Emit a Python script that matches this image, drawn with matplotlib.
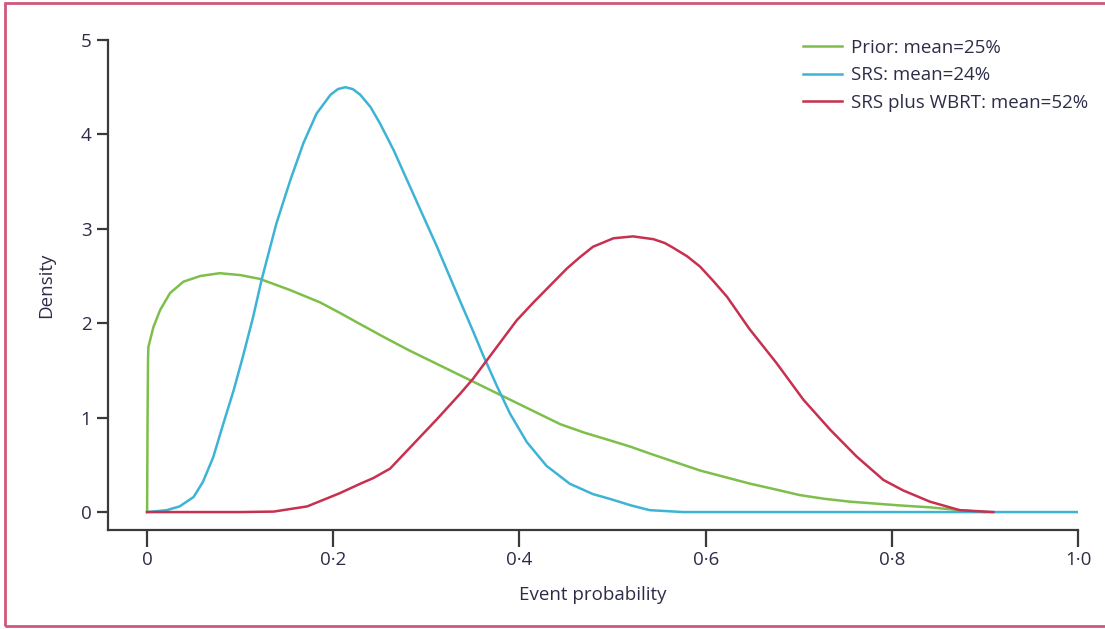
import matplotlib
matplotlib.use("Agg")
import matplotlib.pyplot as plt
from matplotlib.patches import Rectangle

# values
prior_x = [0, 0.0005, 0.001, 0.0014, 0.0068, 0.014, 0.0247, 0.039, 0.057, 0.078, 0.10, 0.121,
           0.154, 0.186, 0.207, 0.229, 0.255, 0.282, 0.309, 0.336, 0.363, 0.39, 0.417, 0.444,
           0.47, 0.497, 0.52, 0.540, 0.567, 0.594, 0.621, 0.648, 0.675, 0.701, 0.728, 0.755,
           0.782, 0.809, 0.841, 0.873, 0.9]
prior_y = [0, 1.0, 1.61, 1.75, 1.96, 2.14, 2.32, 2.44, 2.50, 2.53, 2.51, 2.47,
           2.35, 2.22, 2.11, 1.99, 1.85, 1.71, 1.58, 1.45, 1.32, 1.19, 1.06, 0.93,
           0.84, 0.76, 0.69, 0.62, 0.53, 0.44, 0.37, 0.30, 0.24, 0.18, 0.14, 0.11,
           0.09, 0.07, 0.05, 0.02, 0.0]

srs_x = [0, 0.021, 0.035, 0.050, 0.060, 0.071, 0.082, 0.093, 0.103, 0.114, 0.123, 0.139,
         0.154, 0.168, 0.182, 0.197, 0.205, 0.213, 0.221, 0.229, 0.24, 0.250, 0.265, 0.28,
         0.295, 0.311, 0.336, 0.35, 0.361, 0.376, 0.39, 0.408, 0.429, 0.454, 0.479, 0.497,
         0.52, 0.54, 0.576, 1.0]
srs_y = [0, 0.02, 0.06, 0.16, 0.32, 0.58, 0.94, 1.29, 1.65, 2.07, 2.46, 3.06,
         3.52, 3.91, 4.22, 4.42, 4.48, 4.50, 4.48, 4.42, 4.29, 4.12, 3.83, 3.50,
         3.17, 2.82, 2.24, 1.92, 1.66, 1.33, 1.04, 0.74, 0.49, 0.30, 0.19, 0.14,
         0.07, 0.02, 0.0, 0.0]

wbrt_x = [0, 0.10, 0.136, 0.172, 0.207, 0.229, 0.243, 0.261, 0.286, 0.311, 0.336, 0.350,
          0.372, 0.397, 0.415, 0.433, 0.451, 0.465, 0.479, 0.501, 0.522, 0.544, 0.556, 0.565,
          0.58, 0.594, 0.608, 0.623, 0.647, 0.676, 0.705, 0.734, 0.762, 0.791, 0.812, 0.841,
          0.873, 0.909]
wbrt_y = [0, 0.0, 0.005, 0.06, 0.20, 0.30, 0.36, 0.46, 0.72, 0.98, 1.25, 1.41,
          1.70, 2.03, 2.22, 2.40, 2.58, 2.70, 2.81, 2.90, 2.92, 2.89, 2.85, 2.80,
          2.71, 2.60, 2.45, 2.28, 1.94, 1.58, 1.19, 0.87, 0.59, 0.34, 0.23, 0.11,
          0.02, 0.0]

labels = ["Prior: mean=25%", "SRS: mean=24%", "SRS plus WBRT: mean=52%"]
colors = ["#7dbf4a", "#3db3d5", "#c7304f"]

x_ticks = [0, 0.2, 0.4, 0.6, 0.8, 1.0]
x_tick_labels = ["0", "0·2", "0·4", "0·6", "0·8", "1·0"]
y_ticks = [0, 1, 2, 3, 4, 5]

plt.rcParams['font.family'] = ['Open Sans', 'DejaVu Sans']
txt = "#2d2d48"
axc = "#3a3a3a"
fs = 13.5

fig = plt.figure(figsize=(11.05, 6.29), dpi=100)
ax = fig.add_axes([108/1105, 1 - 530/629, 970/1105, 490/629])

ax.plot(prior_x, prior_y, color=colors[0], lw=1.8, label=labels[0])
ax.plot(srs_x, srs_y, color=colors[1], lw=1.8, label=labels[1])
ax.plot(wbrt_x, wbrt_y, color=colors[2], lw=1.8, label=labels[2])

ax.set_xlim(-0.042, 1.0)
ax.set_ylim(-0.19, 5.0)
ax.set_xticks(x_ticks)
ax.set_xticklabels(x_tick_labels)
ax.set_yticks(y_ticks)

for s in ["top", "right"]:
    ax.spines[s].set_visible(False)
for s in ["left", "bottom"]:
    ax.spines[s].set_color(axc)
    ax.spines[s].set_linewidth(1.6)
ax.tick_params(axis="x", direction="out", length=12, width=1.6, color=axc,
               labelsize=fs, labelcolor=txt, pad=3)
ax.tick_params(axis="y", direction="out", length=8, width=1.6, color=axc,
               labelsize=fs, labelcolor=txt, pad=4)

ax.set_xlabel("Event probability", fontsize=fs, color=txt, labelpad=12)
ax.set_ylabel("Density", fontsize=fs, color=txt, labelpad=18)

leg = ax.legend(loc="upper left", bbox_to_anchor=(786/1105, 1 - 22/629),
                bbox_transform=fig.transFigure, frameon=False, fontsize=fs,
                handlelength=2.1, handletextpad=0.45, labelspacing=0.5)
for t in leg.get_texts():
    t.set_color(txt)

fig.patches.append(Rectangle((5/1105, 3/629), 1.0, 623/629, transform=fig.transFigure,
                             fill=False, edgecolor="#d0587a", lw=2))

fig.savefig("out.png", dpi=100)
